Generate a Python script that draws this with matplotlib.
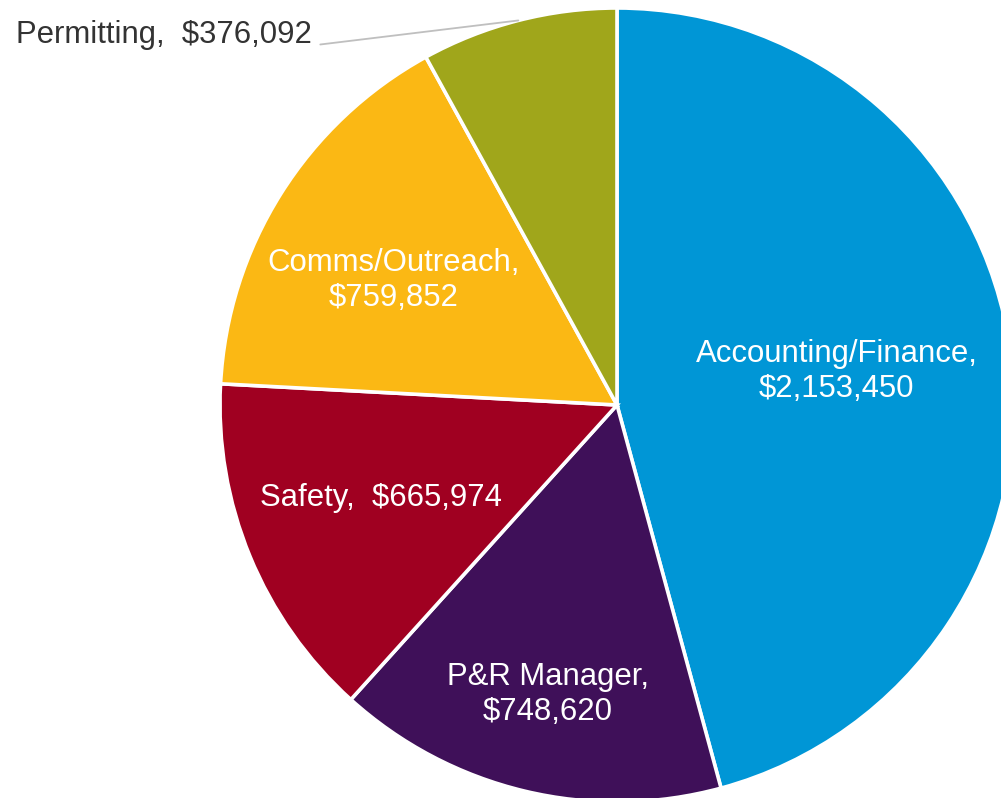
import numpy as np
import matplotlib.pyplot as plt

# dept budget split
departments = ['Accounting/Finance', 'P&R Manager', 'Safety', 'Comms/Outreach', 'Permitting']
amounts = [2153450, 748620, 665974, 759852, 376092]
label_text = ['Accounting/Finance,\n$2,153,450', 'P&R Manager,\n$748,620',
              'Safety,  $665,974', 'Comms/Outreach,\n$759,852', 'Permitting,  $376,092']
colors = ['#0096D6', '#3F1059', '#A00021', '#FBB814', '#A0A61B']
# label placement: radius and angle nudge (deg), None -> outside
label_r = [0.56, 0.75, 0.64, 0.645, None]
label_dang = [1.0, 0.0, -1.0, 3.0, 0.0]

plt.rcParams['font.family'] = ['Liberation Sans', 'DejaVu Sans']

W, H = 1001, 798
cx, cy, R = 617, 405, 397  # pixel centre / radius

fig = plt.figure(figsize=(W / 100, H / 100), dpi=100)
ax = fig.add_axes([0, 0, 1, 1])
ax.axis('off')

wedges, _ = ax.pie(amounts, colors=colors, startangle=90, counterclock=False,
                   radius=1, wedgeprops=dict(edgecolor='white', linewidth=2.6))
ax.set_xlim(-cx / R, (W - cx) / R)
ax.set_ylim(-(H - cy) / R, cy / R)
ax.set_aspect('equal')

FS = 22.4
for w, txt, r, da in zip(wedges, label_text, label_r, label_dang):
    ang = np.deg2rad((w.theta1 + w.theta2) / 2 + da)
    if r is not None:
        ax.text(r * np.cos(ang), r * np.sin(ang), txt, ha='center', va='center',
                color='white', fontsize=FS, linespacing=1.22)
    else:
        # outside label with leader
        ax.annotate(txt, xy=(np.cos(ang), np.sin(ang)),
                    xytext=((312 - cx) / R, (cy - 35) / R),
                    ha='right', va='center', color='#333333', fontsize=FS,
                    arrowprops=dict(arrowstyle='-', color='#BFBFBF', lw=1.3,
                                    shrinkA=4, shrinkB=0, relpos=(1, 0.15)))

fig.savefig('out.png', dpi=100)
